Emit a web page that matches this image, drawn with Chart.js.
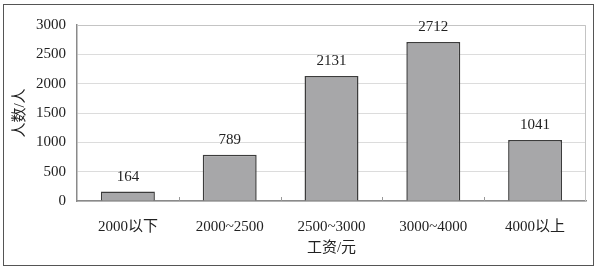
<!DOCTYPE html>
<html>
<head>
<meta charset="utf-8">
<script src="https://cdn.jsdelivr.net/npm/chart.js@4/dist/chart.umd.min.js"></script>
<style>
  html, body { margin: 0; padding: 0; background: #fff; }
  #wrap { position: relative; width: 596px; height: 271px; }
  #frame { position: absolute; left: 3px; top: 4px; width: 589px; height: 260px; border: 1.5px solid #555; }
  canvas { position: absolute; left: 0; top: 0; }
</style>
</head>
<body>
<div id="wrap">
  <div id="frame"></div>
  <canvas id="chart" width="596" height="271"></canvas>
</div>
<script>
const categories = ["2000以下", "2000~2500", "2500~3000", "3000~4000", "4000以上"];
const counts     = [164, 789, 2131, 2712, 1041];
const yTicks     = [0, 500, 1000, 1500, 2000, 2500, 3000];

const FONT = "'Liberation Serif', 'Noto Sans CJK SC', serif";

const valueLabels = {
  id: "valueLabels",
  afterDatasetsDraw(chart) {
    const ctx = chart.ctx;
    const meta = chart.getDatasetMeta(0);
    ctx.save();
    ctx.font = `15px ${FONT}`;
    ctx.fillStyle = "#222";
    ctx.textAlign = "center";
    ctx.textBaseline = "bottom";
    meta.data.forEach((bar, i) => {
      ctx.fillText(String(counts[i]), bar.x, bar.y - 7);
    });
    ctx.restore();
  },
};

const plotFrame = {
  id: "plotFrame",
  beforeDatasetsDraw(chart) {
    const { ctx, chartArea: a, scales } = chart;
    ctx.save();
    ctx.strokeStyle = "#c4c4c4";
    ctx.lineWidth = 1;
    ctx.beginPath();
    ctx.moveTo(a.left, a.top + 0.5);
    ctx.lineTo(a.right - 0.5, a.top + 0.5);
    ctx.lineTo(a.right - 0.5, a.bottom);
    ctx.stroke();
    // small tick marks between categories, pointing up
    ctx.strokeStyle = "#999";
    const x = scales.x;
    for (let i = 1; i < categories.length; i++) {
      const px = Math.round((x.getPixelForValue(i - 1) + x.getPixelForValue(i)) / 2) + 0.5;
      ctx.beginPath();
      ctx.moveTo(px, a.bottom);
      ctx.lineTo(px, a.bottom - 4);
      ctx.stroke();
    }
    ctx.restore();
  },
};

new Chart(document.getElementById("chart").getContext("2d"), {
  type: "bar",
  data: {
    labels: categories,
    datasets: [{
      data: counts,
      backgroundColor: "#a7a7a9",
      borderColor: "#3c3c3c",
      borderWidth: 1.5,
      categoryPercentage: 1,
      barPercentage: 0.53,
    }],
  },
  options: {
    responsive: false,
    animation: false,
    layout: { padding: { top: 25, right: 10, left: 0, bottom: 0 } },
    plugins: { legend: { display: false }, tooltip: { enabled: false } },
    scales: {
      x: {
        afterFit(scale) { scale.height = 70; },
        grid: { display: false },
        border: { display: true, color: "#8a8a8a", width: 1.5 },
        ticks: { color: "#222", font: { family: FONT, size: 15 }, padding: 9, maxRotation: 0 },
        title: {
          display: true,
          text: "工资/元",
          color: "#222",
          font: { family: FONT, size: 15 },
          padding: { top: 0, bottom: 14 },
        },
      },
      y: {
        min: 0,
        max: 3000,
        afterFit(scale) { scale.width = 77; },
        afterBuildTicks(scale) { scale.ticks = yTicks.map(v => ({ value: v })); },
        grid: { color: "#dcdcdc", drawTicks: false },
        border: { display: true, color: "#8a8a8a", width: 1.5 },
        ticks: {
          color: "#222",
          font: { family: FONT, size: 15 },
          padding: 11,
          callback: v => String(v),
        },
        title: {
          display: true,
          text: "人数/人",
          color: "#222",
          font: { family: FONT, size: 15 },
          padding: { top: 11, bottom: 0 },
        },
      },
    },
  },
  plugins: [plotFrame, valueLabels],
});
</script>
</body>
</html>
